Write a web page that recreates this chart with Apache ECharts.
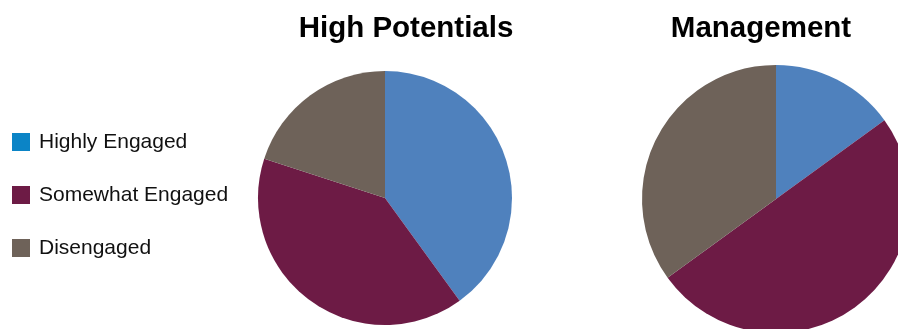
<!DOCTYPE html>
<html>
<head>
<meta charset="utf-8">
<script src="https://cdn.jsdelivr.net/npm/echarts@6/dist/echarts.min.js"></script>
<style>
  html, body { margin: 0; padding: 0; background: #ffffff; }
  #chart { width: 898px; height: 329px; }
</style>
</head>
<body>
<div id="chart"></div>
<script>
const categories = ['Highly Engaged', 'Somewhat Engaged', 'Disengaged'];
const highPotentials = [40, 40, 20];
const management = [15, 50, 35];
const pieTitles = ['High Potentials', 'Management'];

const sliceColors = ['#4f81bd', '#6d1b45', '#6e6259'];
const legendColors = ['#0b84c6', '#6d1b45', '#6e6259'];

function toData(values) {
  return categories.map((c, i) => ({ name: c, value: values[i], itemStyle: { color: sliceColors[i] } }));
}

const titleStyle = { fontFamily: 'Liberation Sans, Arial, sans-serif', fontWeight: 'bold', fontSize: 29.5, color: '#000000' };

const chart = echarts.init(document.getElementById('chart'), null, { renderer: 'canvas' });
chart.setOption({
  animation: false,
  backgroundColor: '#ffffff',
  title: [
    { text: pieTitles[0], left: 401, top: 9, textAlign: 'center', textStyle: titleStyle },
    { text: pieTitles[1], left: 756, top: 9, textAlign: 'center', textStyle: titleStyle }
  ],
  legend: {
    orient: 'vertical',
    left: 12,
    top: 129,
    padding: 0,
    itemWidth: 18,
    itemHeight: 18,
    itemGap: 27,
    icon: 'rect',
    selectedMode: false,
    data: categories.map((c, i) => ({ name: c, itemStyle: { color: legendColors[i] } })),
    textStyle: { fontFamily: 'Liberation Sans, Arial, sans-serif', fontSize: 21, color: '#111111', lineHeight: 21, padding: [5, 0, 0, 4] }
  },
  series: [
    {
      type: 'pie', name: pieTitles[0], center: [385, 198], radius: 127,
      startAngle: 90, clockwise: true, silent: true,
      label: { show: false }, labelLine: { show: false },
      itemStyle: { borderWidth: 0 },
      data: toData(highPotentials)
    },
    {
      type: 'pie', name: pieTitles[1], center: [776, 199], radius: 134,
      startAngle: 90, clockwise: true, silent: true,
      label: { show: false }, labelLine: { show: false },
      itemStyle: { borderWidth: 0 },
      data: toData(management)
    }
  ]
});
</script>
</body>
</html>
